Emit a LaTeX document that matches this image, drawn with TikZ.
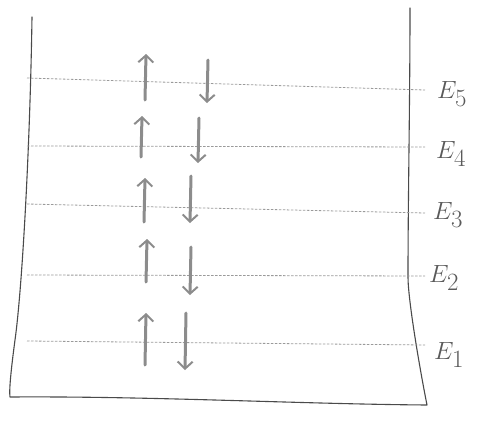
\documentclass[tikz,border=0pt]{standalone}
\usetikzlibrary{arrows.meta}
\definecolor{wallgray}{HTML}{4A4A4A}
\definecolor{levelgray}{HTML}{9A9A9A}
\definecolor{spingray}{HTML}{8C8C8C}
\definecolor{labelgray}{HTML}{5A5A5A}
\begin{document}
\begin{tikzpicture}[x=1pt,y=-1pt,
  wall/.style={draw=wallgray,line width=1.1pt,line cap=round,line join=round},
  level/.style={draw=levelgray,line width=0.8pt,dash pattern=on 2.5pt off 1.5pt},
  spin/.style={draw=spingray,line width=3pt,line cap=round,
    -{Straight Barb[length=7pt,width=15pt,line width=2pt]}},
  elabel/.style={text=labelgray,font=\fontsize{26}{26}\selectfont,anchor=west,inner sep=0pt}]
\useasboundingbox (0,0) rectangle (490,423);

% outline of the well
\coordinate (tl) at (32,17);
\coordinate (bl) at (10,397);
\coordinate (br) at (427,405);
\coordinate (tr) at (410,8);
\draw[wall] (tl) .. controls (30,150) and (22,290) .. (15,340)
  .. controls (11,370) and (9,390) .. (bl)
  .. controls (150,396) and (300,404) .. (br)
  .. controls (420,370) and (408,300) .. (408,277)
  .. controls (408,200) and (410,100) .. (tr);

% energy levels (left end, right end)
\foreach \n/\yl/\yr in {5/78/90, 4/146/147, 3/204/213, 2/275/276, 1/341/345}{
  \coordinate (L\n) at (27,\yl);
  \coordinate (R\n) at (425,\yr);
  \draw[level] (L\n) -- (R\n);
}

% labels
\newcommand\elev[1]{$E_{\textstyle #1}$}
\node[elabel] (e5) at (437,94) {\elev{5}};
\node[elabel] (e4) at (436,154) {\elev{4}};
\node[elabel] (e3) at (433,215) {\elev{3}};
\node[elabel] (e2) at (429,278) {\elev{2}};
\node[elabel] (e1) at (434,355) {\elev{1}};

% spin-up and spin-down arrows on every level
\foreach \n/\ux/\ua/\ub/\dx/\da/\db in {
  5/145/100/54/207/60/103,
  4/141/157/116/198/118/163,
  3/144/222/178/190/176/223,
  2/146/282/239/190/247/295,
  1/145/365/313/185/313/370}{
  \coordinate (u\n a) at (\ux,\ua);
  \coordinate (u\n b) at (\ux+1,\ub);
  \coordinate (d\n a) at (\dx+1,\da);
  \coordinate (d\n b) at (\dx,\db);
  \draw[spin] (u\n a) -- (u\n b);
  \draw[spin] (d\n a) -- (d\n b);
}
\end{tikzpicture}
\end{document}
